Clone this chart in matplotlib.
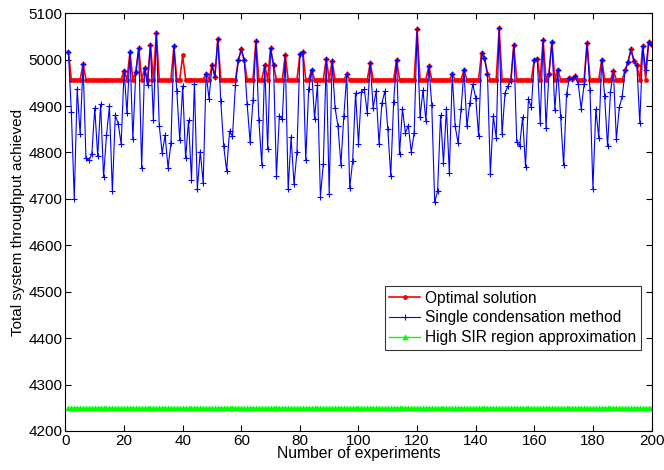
import matplotlib
matplotlib.use("Agg")
import matplotlib.pyplot as plt

experiments = list(range(1, 201))

single_condensation = [
    5017, 4887, 4700, 4937, 4840, 4990, 4787, 4783, 4797, 4896,
    4792, 4904, 4747, 4837, 4899, 4716, 4880, 4862, 4818, 4976,
    4884, 5016, 4830, 4973, 5024, 4767, 4981, 4945, 5031, 4869,
    5057, 4858, 4799, 4837, 4767, 4820, 5029, 4932, 4826, 4943,
    4787, 4869, 4741, 4948, 4721, 4802, 4734, 4970, 4915, 4988,
    4963, 5045, 4911, 4813, 4761, 4846, 4835, 4945, 4999, 5022,
    4999, 4904, 4823, 4912, 5040, 4869, 4774, 4988, 4807, 5024,
    4988, 4749, 4879, 4871, 5009, 4721, 4833, 4731, 4801, 5011,
    5017, 4783, 4937, 4978, 4873, 4946, 4705, 4776, 5002, 4711,
    4997, 4896, 4857, 4774, 4879, 4968, 4723, 4781, 4928, 4819,
    4930, 4936, 4884, 4993, 4896, 4932, 4819, 4907, 4932, 4851,
    4749, 4909, 5000, 4796, 4894, 4842, 4858, 4801, 4842, 5065,
    4876, 4934, 4868, 4986, 4903, 4693, 4717, 4880, 4777, 4894,
    4756, 4968, 4856, 4820, 4893, 4977, 4856, 4907, 4947, 4918,
    4835, 5015, 5003, 4970, 4754, 4878, 4832, 5067, 4839, 4928,
    4943, 4954, 5031, 4823, 4814, 4876, 4769, 4915, 4897, 5000,
    5002, 4863, 5042, 4853, 4970, 5038, 4892, 4978, 4876, 4772,
    4925, 4961, 4958, 4964, 4947, 4894, 4947, 5036, 4935, 4722,
    4893, 4832, 5000, 4921, 4813, 4930, 4975, 4828, 4897, 4921,
    4977, 4995, 5022, 4997, 4988, 4863, 5029, 4978, 5037, 5031,
]

optimal = [
    5017, 4957, 4957, 4957, 4957, 4990, 4957, 4957, 4957, 4957,
    4957, 4957, 4957, 4957, 4957, 4957, 4957, 4957, 4957, 4976,
    4957, 5016, 4957, 4973, 5024, 4957, 4981, 4957, 5031, 4957,
    5057, 4957, 4957, 4957, 4957, 4957, 5029, 4957, 4957, 5009,
    4957, 4957, 4957, 4957, 4957, 4957, 4957, 4970, 4957, 4988,
    4963, 5045, 4957, 4957, 4957, 4957, 4957, 4957, 4999, 5022,
    4999, 4957, 4957, 4957, 5040, 4957, 4957, 4988, 4957, 5024,
    4988, 4957, 4957, 4957, 5009, 4957, 4957, 4957, 4957, 5011,
    5017, 4957, 4957, 4978, 4957, 4957, 4957, 4957, 5002, 4957,
    4997, 4957, 4957, 4957, 4957, 4968, 4957, 4957, 4957, 4957,
    4957, 4957, 4957, 4993, 4957, 4957, 4957, 4957, 4957, 4957,
    4957, 4957, 5000, 4957, 4957, 4957, 4957, 4957, 4957, 5065,
    4957, 4957, 4957, 4986, 4957, 4957, 4957, 4957, 4957, 4957,
    4957, 4968, 4957, 4957, 4957, 4977, 4957, 4957, 4957, 4957,
    4957, 5015, 5003, 4970, 4957, 4957, 4957, 5067, 4957, 4957,
    4957, 4957, 5031, 4957, 4957, 4957, 4957, 4957, 4957, 5000,
    5002, 4957, 5042, 4957, 4970, 5038, 4957, 4978, 4957, 4957,
    4957, 4961, 4958, 4964, 4957, 4957, 4957, 5036, 4957, 4957,
    4957, 4957, 5000, 4957, 4957, 4957, 4975, 4957, 4957, 4957,
    4977, 4995, 5022, 4997, 4988, 4957, 5029, 4957, 5037, 5031,
]

high_sir = [4250] * 200

x_ticks = list(range(0, 201, 20))
y_ticks = list(range(4200, 5101, 100))

plt.rcParams['font.family'] = ['Liberation Sans', 'DejaVu Sans']

fig = plt.figure(figsize=(6.64, 4.70), dpi=100)
ax = fig.add_axes([0.0986, 0.083, 0.8826, 0.889])

ax.plot(experiments, optimal, color='red', marker='.', markersize=5,
        linewidth=1.2, label='Optimal solution')
ax.plot(experiments, single_condensation, color='blue', marker='+',
        markersize=4, markeredgewidth=0.8, linewidth=0.8,
        label='Single condensation method')
ax.plot(experiments, high_sir, color='#00ff00', marker='^', markersize=3.5,
        markeredgewidth=0.6, linewidth=1.0, label='High SIR region approximation')

ax.set_xlim(0, 200)
ax.set_ylim(4200, 5100)
ax.set_xticks(x_ticks)
ax.set_yticks(y_ticks)
ax.tick_params(direction='in', top=True, right=True, labelsize=11,
               length=4, width=0.8, pad=2)
for s in ax.spines.values():
    s.set_linewidth(0.8)

ax.set_xlabel('Number of experiments', fontsize=11.3, labelpad=-1)
ax.set_ylabel('Total system throughput achieved', fontsize=11, labelpad=3)

leg = ax.legend(loc='upper right', bbox_to_anchor=(0.982, 0.347),
                fontsize=11.2, frameon=True, fancybox=False,
                borderpad=0.3, labelspacing=0.3, handlelength=2.0,
                handletextpad=0.3, borderaxespad=0.0)
leg.get_frame().set_edgecolor('black')
leg.get_frame().set_linewidth(0.8)

fig.savefig('out.png', dpi=100)
